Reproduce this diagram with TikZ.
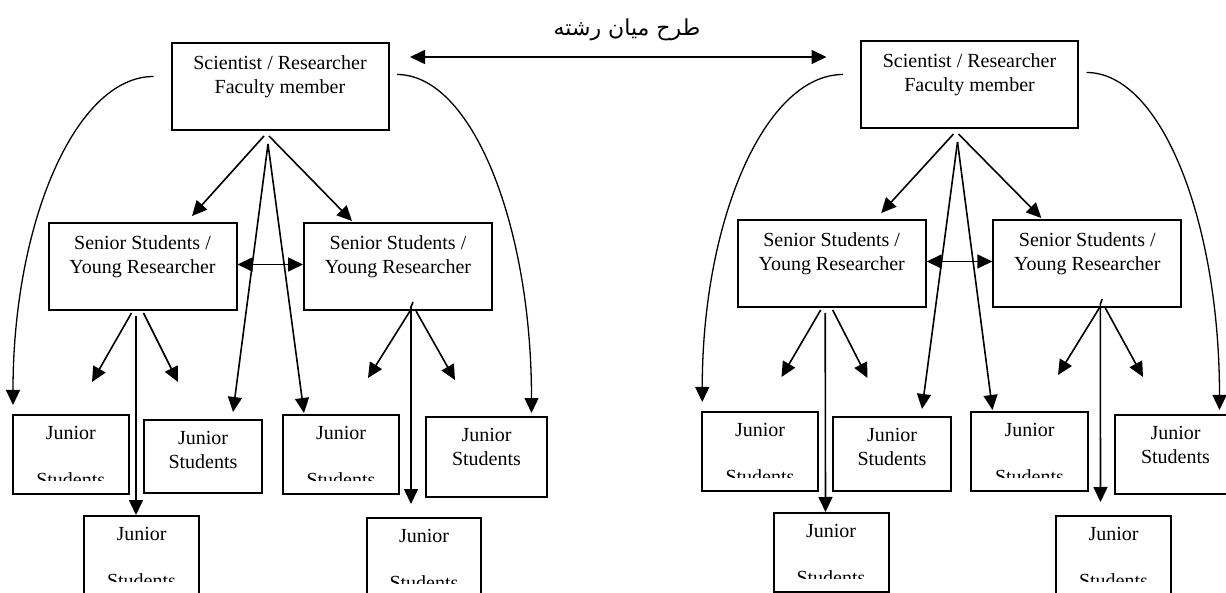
\documentclass[tikz,border=0pt]{standalone}
\usepackage{fontspec}
\setmainfont{Liberation Serif}
\newfontfamily\arabicfont[Script=Arabic]{DejaVu Sans}
\TeXXeTstate=1
\usetikzlibrary{arrows.meta,positioning}
\begin{document}
\begin{tikzpicture}
[x=1pt, y=-1pt,
boxnode/.style={draw, line width=2pt, inner sep=0pt},
boxtext/.style={inner sep=0pt, align=center, font=\fontsize{20}{24}\selectfont},
arrowline/.style={line width=1.6pt, -{Triangle[length=15pt,width=14pt]}},
curvearrow/.style={line width=1.3pt, -{Triangle[length=15pt,width=14pt]}},
twoway/.style={line width=1.6pt, {Triangle[length=15pt,width=14pt]}-{Triangle[length=15pt,width=14pt]}}]
\path[use as bounding box, fill=white] (0,0) rectangle (1226,593);

% left group
\node[boxnode, minimum width=217pt, minimum height=87pt] (sciL) at (280,86.5) {};
\node[boxtext, below=13pt of sciL.north] (sciLt) {Scientist / Researcher\\Faculty member};
\node[boxnode, minimum width=188pt, minimum height=87pt] (senLL) at (142.5,266.5) {};
\node[boxtext, below=13pt of senLL.north] (senLLt) {Senior Students /\\Young Researcher};
\node[boxnode, minimum width=188pt, minimum height=87pt] (senLR) at (398,266.5) {};
\node[boxtext, below=13pt of senLR.north] (senLRt) {Senior Students /\\Young Researcher};
\node[boxnode, minimum width=115.5pt, minimum height=79pt] (jL1) at (70.75,454.5) {};
\node[boxnode, minimum width=118pt, minimum height=73pt] (jL2) at (203,456.5) {};
\node[boxtext, below=12pt of jL2.north] (jL2t) {Junior\\Students};
\node[boxnode, minimum width=116pt, minimum height=79pt] (jL3) at (341,454.5) {};
\node[boxnode, minimum width=121pt, minimum height=80pt] (jL4) at (486.5,457) {};
\node[boxtext, below=12pt of jL4.north] (jL4t) {Junior\\Students};
\node[boxnode, minimum width=115pt, minimum height=79pt] (jL5) at (141.5,555.5) {};
\node[boxnode, minimum width=114pt, minimum height=79pt] (jL6) at (424,557.5) {};
\begin{scope}
\clip (jL1.north west) rectangle ([yshift=14.5pt]jL1.south east);
\node[boxtext, below=12pt of jL1.north] (jL1t) {Junior\\[23pt]Students};
\end{scope}
\begin{scope}
\clip (jL3.north west) rectangle ([yshift=14.5pt]jL3.south east);
\node[boxtext, below=12pt of jL3.north] (jL3t) {Junior\\[23pt]Students};
\end{scope}
\begin{scope}
\clip (jL5.north west) rectangle ([yshift=14.5pt]jL5.south east);
\node[boxtext, below=12pt of jL5.north] (jL5t) {Junior\\[23pt]Students};
\end{scope}
\begin{scope}
\clip (jL6.north west) rectangle ([yshift=14.5pt]jL6.south east);
\node[boxtext, below=12pt of jL6.north] (jL6t) {Junior\\[23pt]Students};
\end{scope}
\coordinate (fL1) at (92,382);
\coordinate (fL2) at (178,382);
\coordinate (fL3) at (368,378);
\coordinate (fL4) at (455,380);

\draw[arrowline] ([shift={(-16,5)}]sciL.south) -- ([shift={(49.5,-6)}]senLL.north);
\draw[arrowline] ([shift={(-11,5)}]sciL.south) -- ([shift={(-46,-1)}]senLR.north);
\draw[arrowline] ([shift={(-12,13)}]sciL.south) -- ([shift={(30,-7)}]jL2.north);
\draw[arrowline] ([shift={(-12,13)}]sciL.south) -- ([shift={(-37,-1)}]jL3.north);
\draw[curvearrow] ([shift={(-17,-10)}]sciL.west) .. controls +(-78,0) and +(0,-182) .. ([shift={(1,-9)}]jL1.north west);
\draw[curvearrow] ([shift={(7.5,-12)}]sciL.east) .. controls +(75,0) and +(0,-188) .. ([shift={(45,-3)}]jL4.north);
\draw[twoway] ([yshift=2pt]senLL.east) -- ([yshift=2pt]senLR.west);
\draw[arrowline] ([shift={(-11,2)}]senLL.south) -- (fL1);
\draw[arrowline] ([shift={(1,2)}]senLL.south) -- (fL2);
\draw[arrowline] ([shift={(-6.5,5)}]senLL.south) -- ([xshift=-5.5pt]jL5.north);
\draw[arrowline] ([shift={(12,0)}]senLR.south) -- (fL3);
\draw[arrowline] ([shift={(18,0)}]senLR.south) -- (fL4);
\draw[arrowline] ([shift={(15,-9)}]senLR.south) -- ([shift={(13,-4)}]senLR.south) -- ([shift={(-13,-13)}]jL6.north);

% right group
\node[boxnode, minimum width=217pt, minimum height=87pt] (sciR) at (969.5,84.5) {};
\node[boxtext, below=13pt of sciR.north] (sciRt) {Scientist / Researcher\\Faculty member};
\node[boxnode, minimum width=188pt, minimum height=87pt] (senRL) at (831.7,263.5) {};
\node[boxtext, below=13pt of senRL.north] (senRLt) {Senior Students /\\Young Researcher};
\node[boxnode, minimum width=188pt, minimum height=87pt] (senRR) at (1087.3,263.5) {};
\node[boxtext, below=13pt of senRR.north] (senRRt) {Senior Students /\\Young Researcher};
\node[boxnode, minimum width=115.5pt, minimum height=79pt] (jR1) at (760,451.5) {};
\node[boxnode, minimum width=117.5pt, minimum height=74pt] (jR2) at (892,454) {};
\node[boxtext, below=12pt of jR2.north] (jR2t) {Junior\\Students};
\node[boxnode, minimum width=117pt, minimum height=79pt] (jR3) at (1029.5,451.5) {};
\node[boxnode, minimum width=121pt, minimum height=79pt] (jR4) at (1175.5,454.5) {};
\node[boxtext, below=12pt of jR4.north] (jR4t) {Junior\\Students};
\node[boxnode, minimum width=115pt, minimum height=79pt] (jR5) at (831,552.5) {};
\node[boxnode, minimum width=115pt, minimum height=79pt] (jR6) at (1113.5,555.5) {};
\begin{scope}
\clip (jR1.north west) rectangle ([yshift=14.5pt]jR1.south east);
\node[boxtext, below=12pt of jR1.north] (jR1t) {Junior\\[23pt]Students};
\end{scope}
\begin{scope}
\clip (jR3.north west) rectangle ([yshift=14.5pt]jR3.south east);
\node[boxtext, below=12pt of jR3.north] (jR3t) {Junior\\[23pt]Students};
\end{scope}
\begin{scope}
\clip (jR5.north west) rectangle ([yshift=14.5pt]jR5.south east);
\node[boxtext, below=12pt of jR5.north] (jR5t) {Junior\\[23pt]Students};
\end{scope}
\begin{scope}
\clip (jR6.north west) rectangle ([yshift=14.5pt]jR6.south east);
\node[boxtext, below=12pt of jR6.north] (jR6t) {Junior\\[23pt]Students};
\end{scope}
\coordinate (fR1) at (781.5,377);
\coordinate (fR2) at (867.5,378);
\coordinate (fR3) at (1058,375);
\coordinate (fR4) at (1143,377);

\draw[arrowline] ([shift={(-16,5)}]sciR.south) -- ([shift={(49.5,-6)}]senRL.north);
\draw[arrowline] ([shift={(-11,5)}]sciR.south) -- ([shift={(-46,-1)}]senRR.north);
\draw[arrowline] ([shift={(-12,13)}]sciR.south) -- ([shift={(30,-7)}]jR2.north);
\draw[arrowline] ([shift={(-12,13)}]sciR.south) -- ([shift={(-37,-1)}]jR3.north);
\draw[curvearrow] ([shift={(-17,-10)}]sciR.west) .. controls +(-78,0) and +(0,-182) .. ([shift={(1,-9)}]jR1.north west);
\draw[curvearrow] ([shift={(7.5,-12)}]sciR.east) .. controls +(75,0) and +(0,-188) .. ([shift={(44,-4)}]jR4.north);
\draw[twoway] ([yshift=2pt]senRL.east) -- ([yshift=2pt]senRR.west);
\draw[arrowline] ([shift={(-11,2)}]senRL.south) -- (fR1);
\draw[arrowline] ([shift={(1,2)}]senRL.south) -- (fR2);
\draw[arrowline] ([shift={(-6.5,5)}]senRL.south) -- ([xshift=-5.5pt]jR5.north);
\draw[arrowline] ([shift={(12,0)}]senRR.south) -- (fR3);
\draw[arrowline] ([shift={(18,0)}]senRR.south) -- (fR4);
\draw[arrowline] ([shift={(15,-9)}]senRR.south) -- ([shift={(13,-4)}]senRR.south) -- ([shift={(-13,-13)}]jR6.north);

% between the groups
\node[font=\arabicfont\fontsize{22}{26}\selectfont, inner sep=0pt] (title) at (627,30) {\beginR طرح میان رشته\endR};
\draw[twoway] ([shift={(20.5,-29.5)}]sciL.east) -- ([shift={(-33.5,-27.5)}]sciR.west);
\end{tikzpicture}
\end{document}
